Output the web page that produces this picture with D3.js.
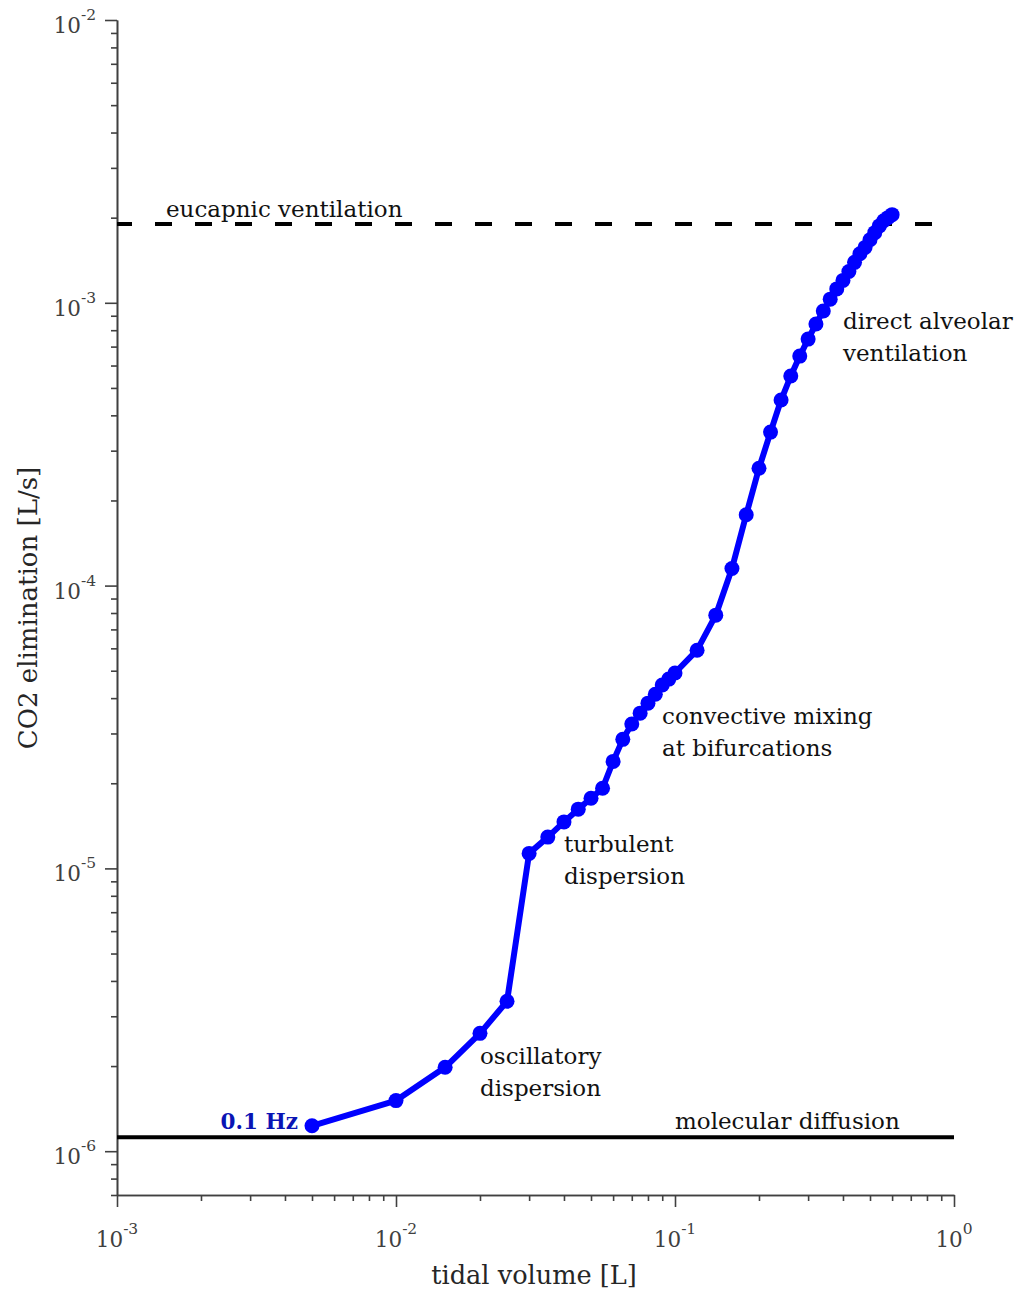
<!DOCTYPE html>
<html><head><meta charset="utf-8">
<script src="https://cdn.jsdelivr.net/npm/d3@7"></script>
<style>body{margin:0;background:#fff} svg{display:block}</style>
</head><body>
<script>
// ---- data ----
const tidalVolume = [0.005,0.01,0.015,0.02,0.025,0.03,0.035,0.04,0.045,0.05,0.055,0.06,0.065,0.07,0.075,0.08,0.085,0.09,0.095,0.1,
  0.12,0.14,0.16,0.18,0.20,0.22,0.24,0.26,0.28,0.30,0.32,0.34,0.36,0.38,0.40,0.42,0.44,0.46,0.48,0.50,0.52,0.54,0.56,0.58,0.60];
const co2Elimination = [1.23e-6,1.51e-6,1.98e-6,2.61e-6,3.39e-6,1.13e-5,1.29e-5,1.46e-5,1.62e-5,1.77e-5,
  1.92e-5,2.39e-5,2.86e-5,3.24e-5,3.54e-5,3.84e-5,4.13e-5,4.45e-5,4.67e-5,4.91e-5,
  5.91e-5,7.86e-5,1.15e-4,1.78e-4,2.60e-4,3.49e-4,4.53e-4,5.51e-4,6.48e-4,7.44e-4,
  8.41e-4,9.35e-4,1.03e-3,1.12e-3,1.20e-3,1.29e-3,1.39e-3,1.49e-3,1.57e-3,1.67e-3,
  1.77e-3,1.87e-3,1.95e-3,2.00e-3,2.05e-3];
const eucapnicLevel = 1.9e-3;
const molecularLevel = 1.12e-6;
const xTickExponents = [-3,-2,-1,0];
const yTickExponents = [-6,-5,-4,-3,-2];
const xDomain = [1e-3, 1e0];
const yDomain = [7e-7, 1e-2];
const seriesLabel = "0.1 Hz";
const xAxisTitle = "tidal volume [L]";
const yAxisTitle = "CO2 elimination [L/s]";
const regimeLabels = [
  {lines:["eucapnic ventilation"], key:"eucapnic"},
  {lines:["direct alveolar","ventilation"], key:"direct"},
  {lines:["convective mixing","at bifurcations"], key:"convective"},
  {lines:["turbulent","dispersion"], key:"turbulent"},
  {lines:["oscillatory","dispersion"], key:"oscillatory"},
  {lines:["molecular diffusion"], key:"molecular"}
];

// ---- layout ----
const W = 1021, H = 1296;
const FONT = "'DejaVu Serif', 'Liberation Serif', serif";
const x = d3.scaleLog().domain(xDomain).range([117, 954]);
const y = d3.scaleLog().domain(yDomain).range([1195, 20]);
const labelPos = {
  eucapnic:[166,217], direct:[843,329], convective:[662,724],
  turbulent:[564,852], oscillatory:[480,1064], molecular:[675,1129]
};
const axisColor = "#404040";

const svg = d3.select("body").append("svg").attr("width", W).attr("height", H)
  .style("font-family", FONT);

function minors(dom){
  const out=[];
  const lo=Math.floor(Math.log10(dom[0])), hi=Math.ceil(Math.log10(dom[1]));
  for(let e=lo;e<hi;e++) for(let k=2;k<=9;k++){const v=k*Math.pow(10,e); if(v>=dom[0]*0.999 && v<=dom[1]*1.001) out.push(v);}
  return out;
}
const xMajor = xTickExponents.map(e=>Math.pow(10,e));
const yMajor = yTickExponents.map(e=>Math.pow(10,e));

function styleAxis(g){
  g.selectAll("path,line").attr("stroke", axisColor).attr("stroke-width", 1.6);
}
const gx = svg.append("g").attr("transform", `translate(0,${y.range()[0]})`);
gx.append("g").call(d3.axisBottom(x).tickValues(minors(xDomain)).tickSize(6).tickSizeOuter(0).tickFormat("")).call(styleAxis);
gx.append("g").call(d3.axisBottom(x).tickValues(xMajor).tickSize(12).tickSizeOuter(0).tickFormat("")).call(styleAxis);
const gy = svg.append("g").attr("transform", `translate(${x.range()[0]},0)`);
gy.append("g").call(d3.axisLeft(y).tickValues(minors(yDomain)).tickSize(6).tickSizeOuter(0).tickFormat("")).call(styleAxis);
gy.append("g").call(d3.axisLeft(y).tickValues(yMajor).tickSize(12).tickSizeOuter(0).tickFormat("")).call(styleAxis);

function powLabel(sel, e){
  sel.append("tspan").text("10");
  sel.append("tspan").attr("font-size", 15.5).attr("dy", -13).text(String(e));
}
xTickExponents.forEach(e=>{
  const t = svg.append("text").attr("x", x(Math.pow(10,e))).attr("y", 1247)
    .attr("text-anchor","middle").attr("font-size",21.5).attr("fill",axisColor);
  powLabel(t,e);
});
yTickExponents.forEach(e=>{
  const t = svg.append("text").attr("x", 96).attr("y", y(Math.pow(10,e))+13)
    .attr("text-anchor","end").attr("font-size",21.5).attr("fill",axisColor);
  powLabel(t,e);
});

svg.append("text").attr("x", 534).attr("y", 1284).attr("text-anchor","middle")
  .attr("font-size",25.6).attr("fill","#262626").text(xAxisTitle);
svg.append("text").attr("transform", `translate(37,608) rotate(-90)`).attr("text-anchor","middle")
  .attr("font-size",26).attr("fill","#262626").text(yAxisTitle);

svg.append("line").attr("x1", x(xDomain[0])).attr("x2", x(xDomain[1]))
  .attr("y1", y(eucapnicLevel)).attr("y2", y(eucapnicLevel))
  .attr("stroke","#000").attr("stroke-width",4).attr("stroke-dasharray","17 23").attr("stroke-dashoffset",2);
svg.append("line").attr("x1", x(xDomain[0])).attr("x2", x(xDomain[1]))
  .attr("y1", y(molecularLevel)).attr("y2", y(molecularLevel))
  .attr("stroke","#000").attr("stroke-width",4);

const pts = tidalVolume.map((v,i)=>[v, co2Elimination[i]]);
svg.append("path").datum(pts)
  .attr("d", d3.line().x(d=>x(d[0])).y(d=>y(d[1])))
  .attr("fill","none").attr("stroke","#0000ff").attr("stroke-width",6).attr("stroke-linejoin","round");
svg.append("g").selectAll("circle").data(pts).join("circle")
  .attr("cx", d=>x(d[0])).attr("cy", d=>y(d[1])).attr("r", 7.5).attr("fill","#0000ff");

svg.append("text").attr("x", x(tidalVolume[0]) - 14).attr("y", 1129).attr("text-anchor","end")
  .attr("font-size",21.5).attr("font-weight","bold").attr("fill","#0a14b4").text(seriesLabel);

regimeLabels.forEach(l=>{
  const [px,py] = labelPos[l.key];
  const t = svg.append("text").attr("font-size",23).attr("fill","#111");
  l.lines.forEach((s,i)=> t.append("tspan").attr("x",px).attr("y",py+i*32).text(s));
});
</script>
</body></html>
